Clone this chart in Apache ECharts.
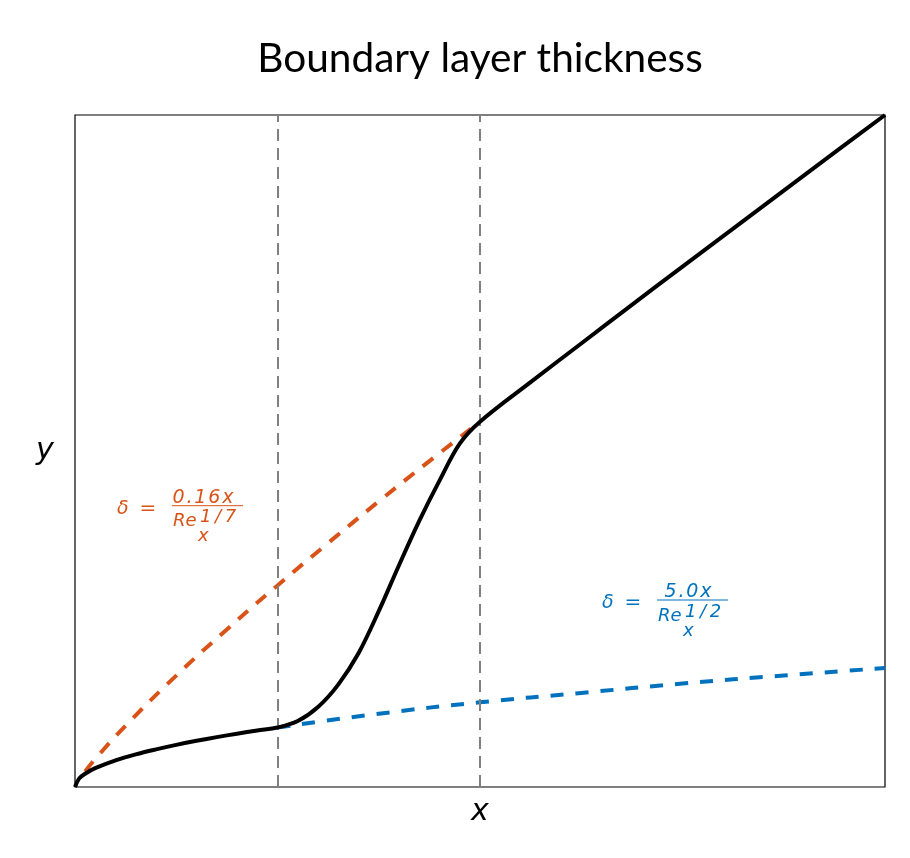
<!DOCTYPE html>
<html><head><meta charset="utf-8">
<script src="https://cdn.jsdelivr.net/npm/echarts@6/dist/echarts.min.js"></script>
<style>html,body{margin:0;padding:0;background:#fff}#c{width:910px;height:858px}</style>
</head><body><div id="c"></div>
<script>
// Black curve: laminar part, transition, turbulent part
const blackX = [0, 0.02, 0.05, 0.1, 0.2, 0.3, 0.4, 0.5, 0.6, 0.7, 0.8, 0.9, 1.0, 1.1, 1.2, 1.3, 1.4, 1.5, 1.6, 1.7, 1.8, 1.9, 2.0, 2.25, 2.5, 2.75, 3.0, 3.25, 3.5, 3.75, 4.0];
const blackY = [0, 0.0125, 0.0198, 0.028, 0.0397, 0.0486, 0.056, 0.0627, 0.0687, 0.0742, 0.0793, 0.0841, 0.0885, 0.0981, 0.119, 0.1524, 0.199, 0.2616, 0.330, 0.396, 0.456, 0.511, 0.5436, 0.6025, 0.660, 0.7175, 0.7745, 0.831, 0.8875, 0.944, 1.0];
// Turbulent estimate (orange dashed)
const turbX = [0.05, 0.1, 0.25, 0.5, 0.75, 1.0, 1.25, 1.5, 1.75, 2.0];
const turbY = [0.0231, 0.0417, 0.0912, 0.1658, 0.2345, 0.300, 0.363, 0.425, 0.485, 0.5436];
// Laminar estimate (blue dashed)
const lamX = [1.0, 1.5, 2.0, 2.5, 3.0, 3.5, 4.0];
const lamY = [0.0885, 0.109, 0.126, 0.140, 0.154, 0.166, 0.177];
// Transition boundaries
const transitionX = [1, 2];

const zip = (a, b) => a.map((v, i) => [v, b[i]]);
const chart = echarts.init(document.getElementById('c'));
const FF = '"DejaVu Sans", sans-serif';
const TS = '\u2009';
const HS = '\u200A';

function formula(L, B, color, num, expo) {
  const el = (txt, x, y, align, size, italic) => ({
    type: 'text',
    x: x, y: y,
    style: { text: txt, fill: color, fontFamily: FF, fontSize: size, fontStyle: italic ? 'italic' : 'normal', align: align, verticalAlign: 'middle' }
  });
  return [
    el('δ', L, B + 3, 'left', 19, true),
    el('=', L + 31, B + 3, 'center', 20, false),
    { type: 'line', shape: { x1: L + 55, y1: B, x2: L + 126, y2: B }, style: { stroke: color, lineWidth: 1 } },
    el(num.split('').join(HS), L + 86, B - 8, 'center', 19, true),
    el('Re', L + 56, B + 16, 'left', 18, true),
    el('x', L + 81, B + 31, 'left', 18, true),
    el(expo.split('').join(TS), L + 83, B + 12, 'left', 18, true)
  ];
}

const option = {
  backgroundColor: '#fff',
  animation: false,
  title: {
    text: 'Boundary layer thickness', left: 475, top: 33, textAlign: 'center',
    textStyle: { fontFamily: 'Lato', fontWeight: 'normal', fontSize: 40.6, color: '#000' }
  },
  grid: { left: 75, right: 25, top: 115, bottom: 71, show: true, borderColor: '#000', borderWidth: 1.2, backgroundColor: '#fff' },
  xAxis: {
    type: 'value', min: 0, max: 4,
    axisLine: { show: false }, axisTick: { show: false }, axisLabel: { show: false }, splitLine: { show: false },
    name: 'x', nameLocation: 'middle', nameGap: 10,
    nameTextStyle: { fontFamily: FF, fontStyle: 'italic', fontSize: 30, color: '#000', verticalAlign: 'top' }
  },
  yAxis: {
    type: 'value', min: 0, max: 1,
    axisLine: { show: false }, axisTick: { show: false }, axisLabel: { show: false }, splitLine: { show: false },
    name: 'y', nameLocation: 'middle', nameGap: 30, nameRotate: 0,
    nameTextStyle: { fontFamily: FF, fontStyle: 'italic', fontSize: 30, color: '#000', align: 'center', verticalAlign: 'middle' }
  },
  series: [
    {
      type: 'line', data: zip(turbX, turbY), showSymbol: false, smooth: true, z: 2,
      lineStyle: { color: '#D95319', width: 4, type: [13, 11] }
    },
    {
      type: 'line', data: zip(lamX, lamY), showSymbol: false, smooth: true, z: 2,
      lineStyle: { color: '#0072BD', width: 4, type: [13, 12] }
    },
    {
      type: 'line', data: zip(blackX, blackY), showSymbol: false, smooth: 0.35, z: 5,
      lineStyle: { color: '#000', width: 4 },
      markLine: {
        silent: true, symbol: 'none', label: { show: false },
        lineStyle: { color: '#808080', width: 2, type: [12, 7] },
        data: transitionX.map(v => ({ xAxis: v }))
      }
    }
  ],
  graphic: [].concat(
    formula(117, 505.7, '#D95319', '0.16x', '1/7'),
    formula(602, 600, '#0072BD', '5.0x', '1/2')
  )
};
chart.setOption(option);
</script>
</body></html>
